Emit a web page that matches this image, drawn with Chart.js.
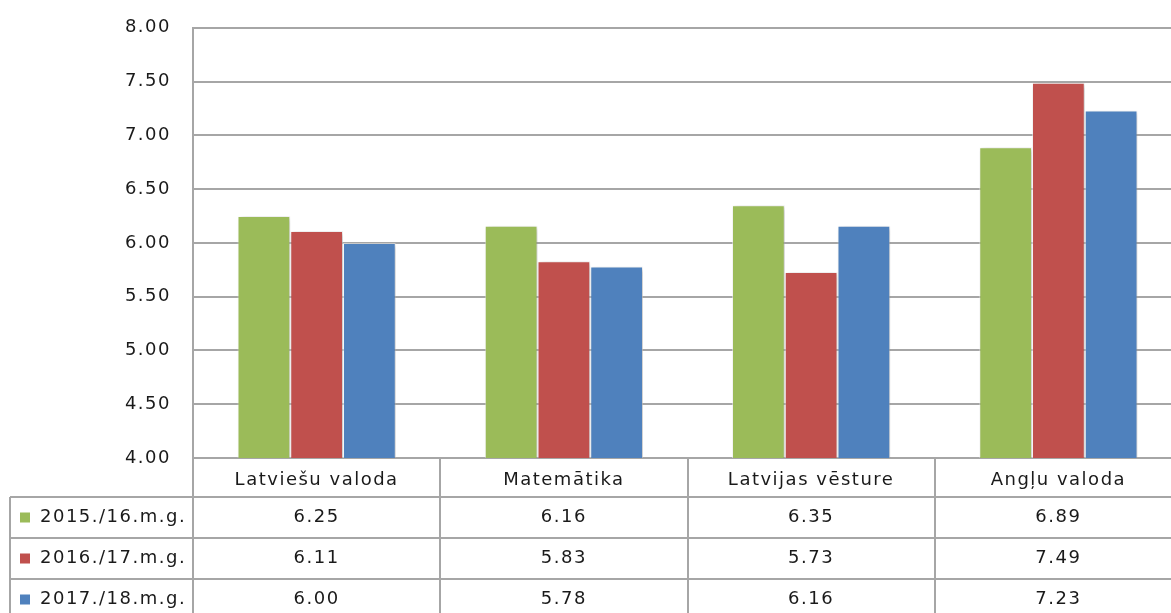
<!DOCTYPE html>
<html>
<head>
<meta charset="utf-8">
<script src="https://cdn.jsdelivr.net/npm/chart.js@4.4.1/dist/chart.umd.min.js"></script>
<style>
  html, body { margin: 0; background: #fff; overflow: hidden; }
  #wrap { width: 1171px; height: 613px; overflow: hidden; }
  canvas { display: block; margin-top: -5px; }
</style>
</head>
<body>
<div id="wrap"><canvas id="chart" width="1200" height="618"></canvas></div>
<script>
const categories = ["Latviešu valoda", "Matemātika", "Latvijas vēsture", "Angļu valoda"];
const seriesNames = ["2015./16.m.g.", "2016./17.m.g.", "2017./18.m.g."];
const values2015 = [6.25, 6.16, 6.35, 6.89];
const values2016 = [6.11, 5.83, 5.73, 7.49];
const values2017 = [6.00, 5.78, 6.16, 7.23];
const colors = ["#9bbb59", "#c0504d", "#4f81bd"];

const FONT = "'DejaVu Sans', sans-serif";
const LINE = "#a6a6a6";
const SPACING = "1.5px";

// wide letter spacing for all text, like the original
const textSpacing = {
  id: "textSpacing",
  beforeDraw(chart) {
    chart.ctx.letterSpacing = SPACING;
  }
};

// soft shadow behind the bars
const barShadow = {
  id: "barShadow",
  beforeDatasetsDraw(chart) {
    const ctx = chart.ctx;
    ctx.save();
    ctx.shadowColor = "rgba(0,0,0,0.25)";
    ctx.shadowBlur = 5;
    ctx.shadowOffsetX = 2;
    ctx.shadowOffsetY = 1;
  },
  afterDatasetsDraw(chart) {
    chart.ctx.restore();
  }
};

// data table under the x axis
const dataTable = {
  id: "dataTable",
  afterDraw(chart) {
    const ctx = chart.ctx;
    const x = chart.scales.x;
    const area = chart.chartArea;
    const bottom = chart.height;
    const n = categories.length;
    const cw = (x.right - x.left) / n;
    const headerH = 39;
    const rowH = 41;
    const rowTops = [0, 1, 2].map(i => area.bottom + headerH + i * rowH);

    ctx.save();
    ctx.letterSpacing = SPACING;
    ctx.strokeStyle = LINE;
    ctx.lineWidth = 2;
    ctx.beginPath();
    // vertical lines
    for (let i = 0; i <= n; i++) {
      const xb = Math.round(x.left + i * cw);
      ctx.moveTo(xb, area.bottom);
      ctx.lineTo(xb, bottom);
    }
    ctx.moveTo(10, rowTops[0]);
    ctx.lineTo(10, bottom);
    // horizontal lines
    rowTops.forEach(y => {
      ctx.moveTo(10, y);
      ctx.lineTo(chart.width, y);
    });
    ctx.stroke();

    ctx.font = "18px " + FONT;
    ctx.textBaseline = "middle";
    chart.data.datasets.forEach((ds, r) => {
      const cy = rowTops[r] + rowH / 2;
      ctx.fillStyle = ds.backgroundColor;
      ctx.fillRect(20, cy - 5, 10, 10);
      ctx.fillStyle = "#1a1a1a";
      ctx.textAlign = "left";
      ctx.fillText(ds.label, 40, cy);
      ctx.textAlign = "center";
      ds.data.forEach((v, i) => {
        ctx.fillText(v.toFixed(2), x.getPixelForValue(i), cy);
      });
    });
    ctx.restore();
  }
};

const valueSets = [values2015, values2016, values2017];

new Chart(document.getElementById("chart"), {
  type: "bar",
  data: {
    labels: categories,
    datasets: seriesNames.map((name, i) => ({
      label: name,
      data: valueSets[i],
      backgroundColor: colors[i],
      borderColor: "rgba(255,255,255,0.55)",
      borderWidth: 1,
      categoryPercentage: 0.64,
      barPercentage: 1
    }))
  },
  options: {
    responsive: false,
    animation: false,
    layout: { padding: { top: 23, right: 18, left: 0, bottom: 0 } },
    plugins: {
      legend: { display: false },
      tooltip: { enabled: false }
    },
    scales: {
      y: {
        min: 4,
        max: 8,
        ticks: {
          stepSize: 0.5,
          padding: 22,
          color: "#1a1a1a",
          font: { family: FONT, size: 18 },
          callback: v => v.toFixed(2)
        },
        grid: { color: LINE, lineWidth: 2, drawTicks: false, tickLength: 0 },
        border: { color: LINE, width: 2 },
        afterFit(scale) { scale.width = 193; }
      },
      x: {
        ticks: {
          padding: 12,
          color: "#1a1a1a",
          font: { family: FONT, size: 18 }
        },
        grid: { display: false, drawTicks: false },
        border: { color: LINE, width: 2 },
        afterFit(scale) { scale.height = 155; }
      }
    }
  },
  plugins: [textSpacing, barShadow, dataTable]
});
</script>
</body>
</html>
